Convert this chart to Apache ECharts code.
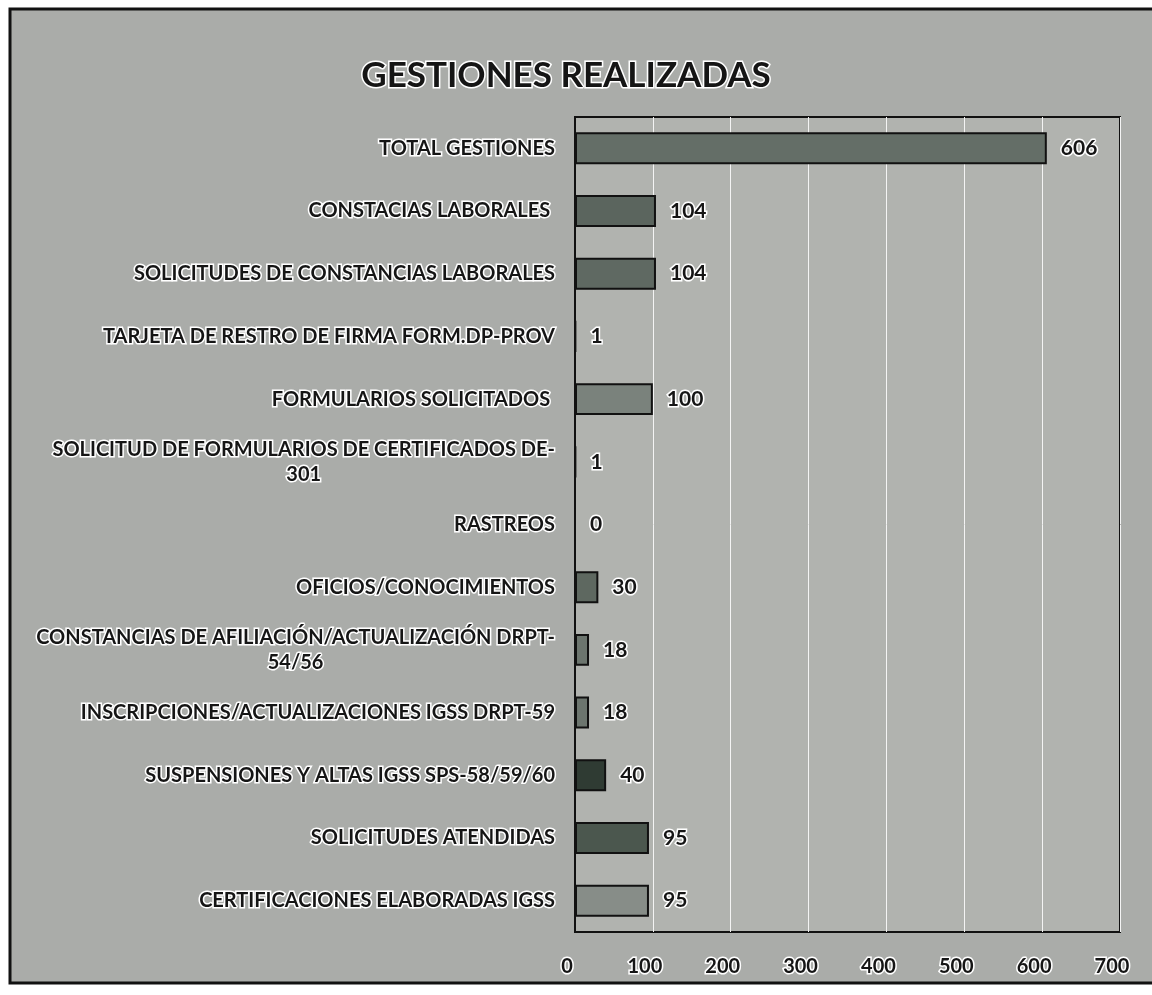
<!DOCTYPE html>
<html>
<head>
<meta charset="utf-8">
<style>
  html, body { margin: 0; padding: 0; background: #ffffff; }
  #chart { width: 1152px; height: 995px; }
</style>
<script src="https://cdn.jsdelivr.net/npm/echarts@6/dist/echarts.min.js"></script>
</head>
<body>
<div id="chart"></div>
<script>
const titleText = 'GESTIONES REALIZADAS';
const categories = [
  'TOTAL GESTIONES',
  'CONSTACIAS LABORALES ',
  'SOLICITUDES DE CONSTANCIAS LABORALES',
  'TARJETA DE RESTRO DE FIRMA FORM.DP-PROV',
  'FORMULARIOS SOLICITADOS ',
  'SOLICITUD DE FORMULARIOS DE CERTIFICADOS DE-\n301',
  'RASTREOS',
  'OFICIOS/CONOCIMIENTOS',
  'CONSTANCIAS DE AFILIACIÓN/ACTUALIZACIÓN DRPT-\n54/56',
  'INSCRIPCIONES/ACTUALIZACIONES IGSS DRPT-59',
  'SUSPENSIONES Y ALTAS IGSS SPS-58/59/60',
  'SOLICITUDES ATENDIDAS',
  'CERTIFICACIONES ELABORADAS IGSS'
];
const values = [606, 104, 104, 1, 100, 1, 0, 30, 18, 18, 40, 95, 95];
const xTicks = [0, 100, 200, 300, 400, 500, 600, 700];

// styling (bar fill shades as seen in the scan)
const barColors = ['#646e67', '#5b655e', '#5f6962', '#5f6962', '#7a827c', '#5f6962', '#5f6962',
                   '#5e6860', '#6c756e', '#6c756e', '#2f3b33', '#4b574e', '#878d88'];

const chart = echarts.init(document.getElementById('chart'));
const labelFont = 'Lato, "Open Sans", sans-serif';

chart.setOption({
  backgroundColor: '#ffffff',
  animation: false,
  graphic: [{
    type: 'rect',
    z: -10,
    silent: true,
    shape: { x: 10, y: 9, width: 1160, height: 974 },
    style: { fill: '#aaaca9', stroke: '#111', lineWidth: 3 }
  }],
  title: {
    text: titleText,
    left: 561,
    textAlign: 'center',
    top: 53,
    textStyle: {
      fontFamily: labelFont,
      fontWeight: 'bold',
      fontSize: 35,
      color: '#151515',
      textBorderColor: '#ffffff',
      textBorderWidth: 3
    }
  },
  grid: {
    left: 575,
    right: 32,
    top: 117,
    bottom: 63,
    show: true,
    backgroundColor: '#b1b3af',
    borderColor: '#111',
    borderWidth: 2,
    containLabel: false
  },
  xAxis: {
    type: 'value',
    min: 0,
    max: 700,
    interval: 100,
    axisLine: { show: false },
    axisTick: { show: false },
    splitLine: { show: true, lineStyle: { color: '#f4f4f4', width: 1 } },
    axisLabel: {
      margin: 25,
      fontFamily: labelFont,
      fontWeight: 'bold',
      fontSize: 20,
      color: '#151515',
      textBorderColor: '#ffffff',
      textBorderWidth: 3,
      padding: [0, 16, 0, 0],
      formatter: function (v) { return xTicks.indexOf(v) >= 0 ? String(v) : ''; }
    }
  },
  yAxis: {
    type: 'category',
    inverse: true,
    data: categories,
    axisLine: { show: true, lineStyle: { color: '#111', width: 2 } },
    axisTick: { show: false },
    axisLabel: {
      margin: 20,
      formatter: function (v) {
        return v.split('\n').map(function (l) { return '{c|' + l + '}'; }).join('\n');
      },
      rich: {
        c: {
          align: 'center',
          fontFamily: labelFont,
          fontWeight: 'bold',
          fontSize: 20,
          lineHeight: 25,
          color: '#151515',
          textBorderColor: '#ffffff',
          textBorderWidth: 3
        }
      }
    }
  },
  series: [{
    type: 'bar',
    data: values.map(function (v, i) {
      return { value: v, itemStyle: { color: barColors[i] } };
    }),
    barWidth: '51%',
    itemStyle: { borderColor: '#111', borderWidth: 2 },
    label: {
      show: true,
      position: 'right',
      distance: 14,
      fontFamily: labelFont,
      fontWeight: 'bold',
      fontSize: 21,
      color: '#151515',
      textBorderColor: '#ffffff',
      textBorderWidth: 3
    }
  }]
});
</script>
</body>
</html>
